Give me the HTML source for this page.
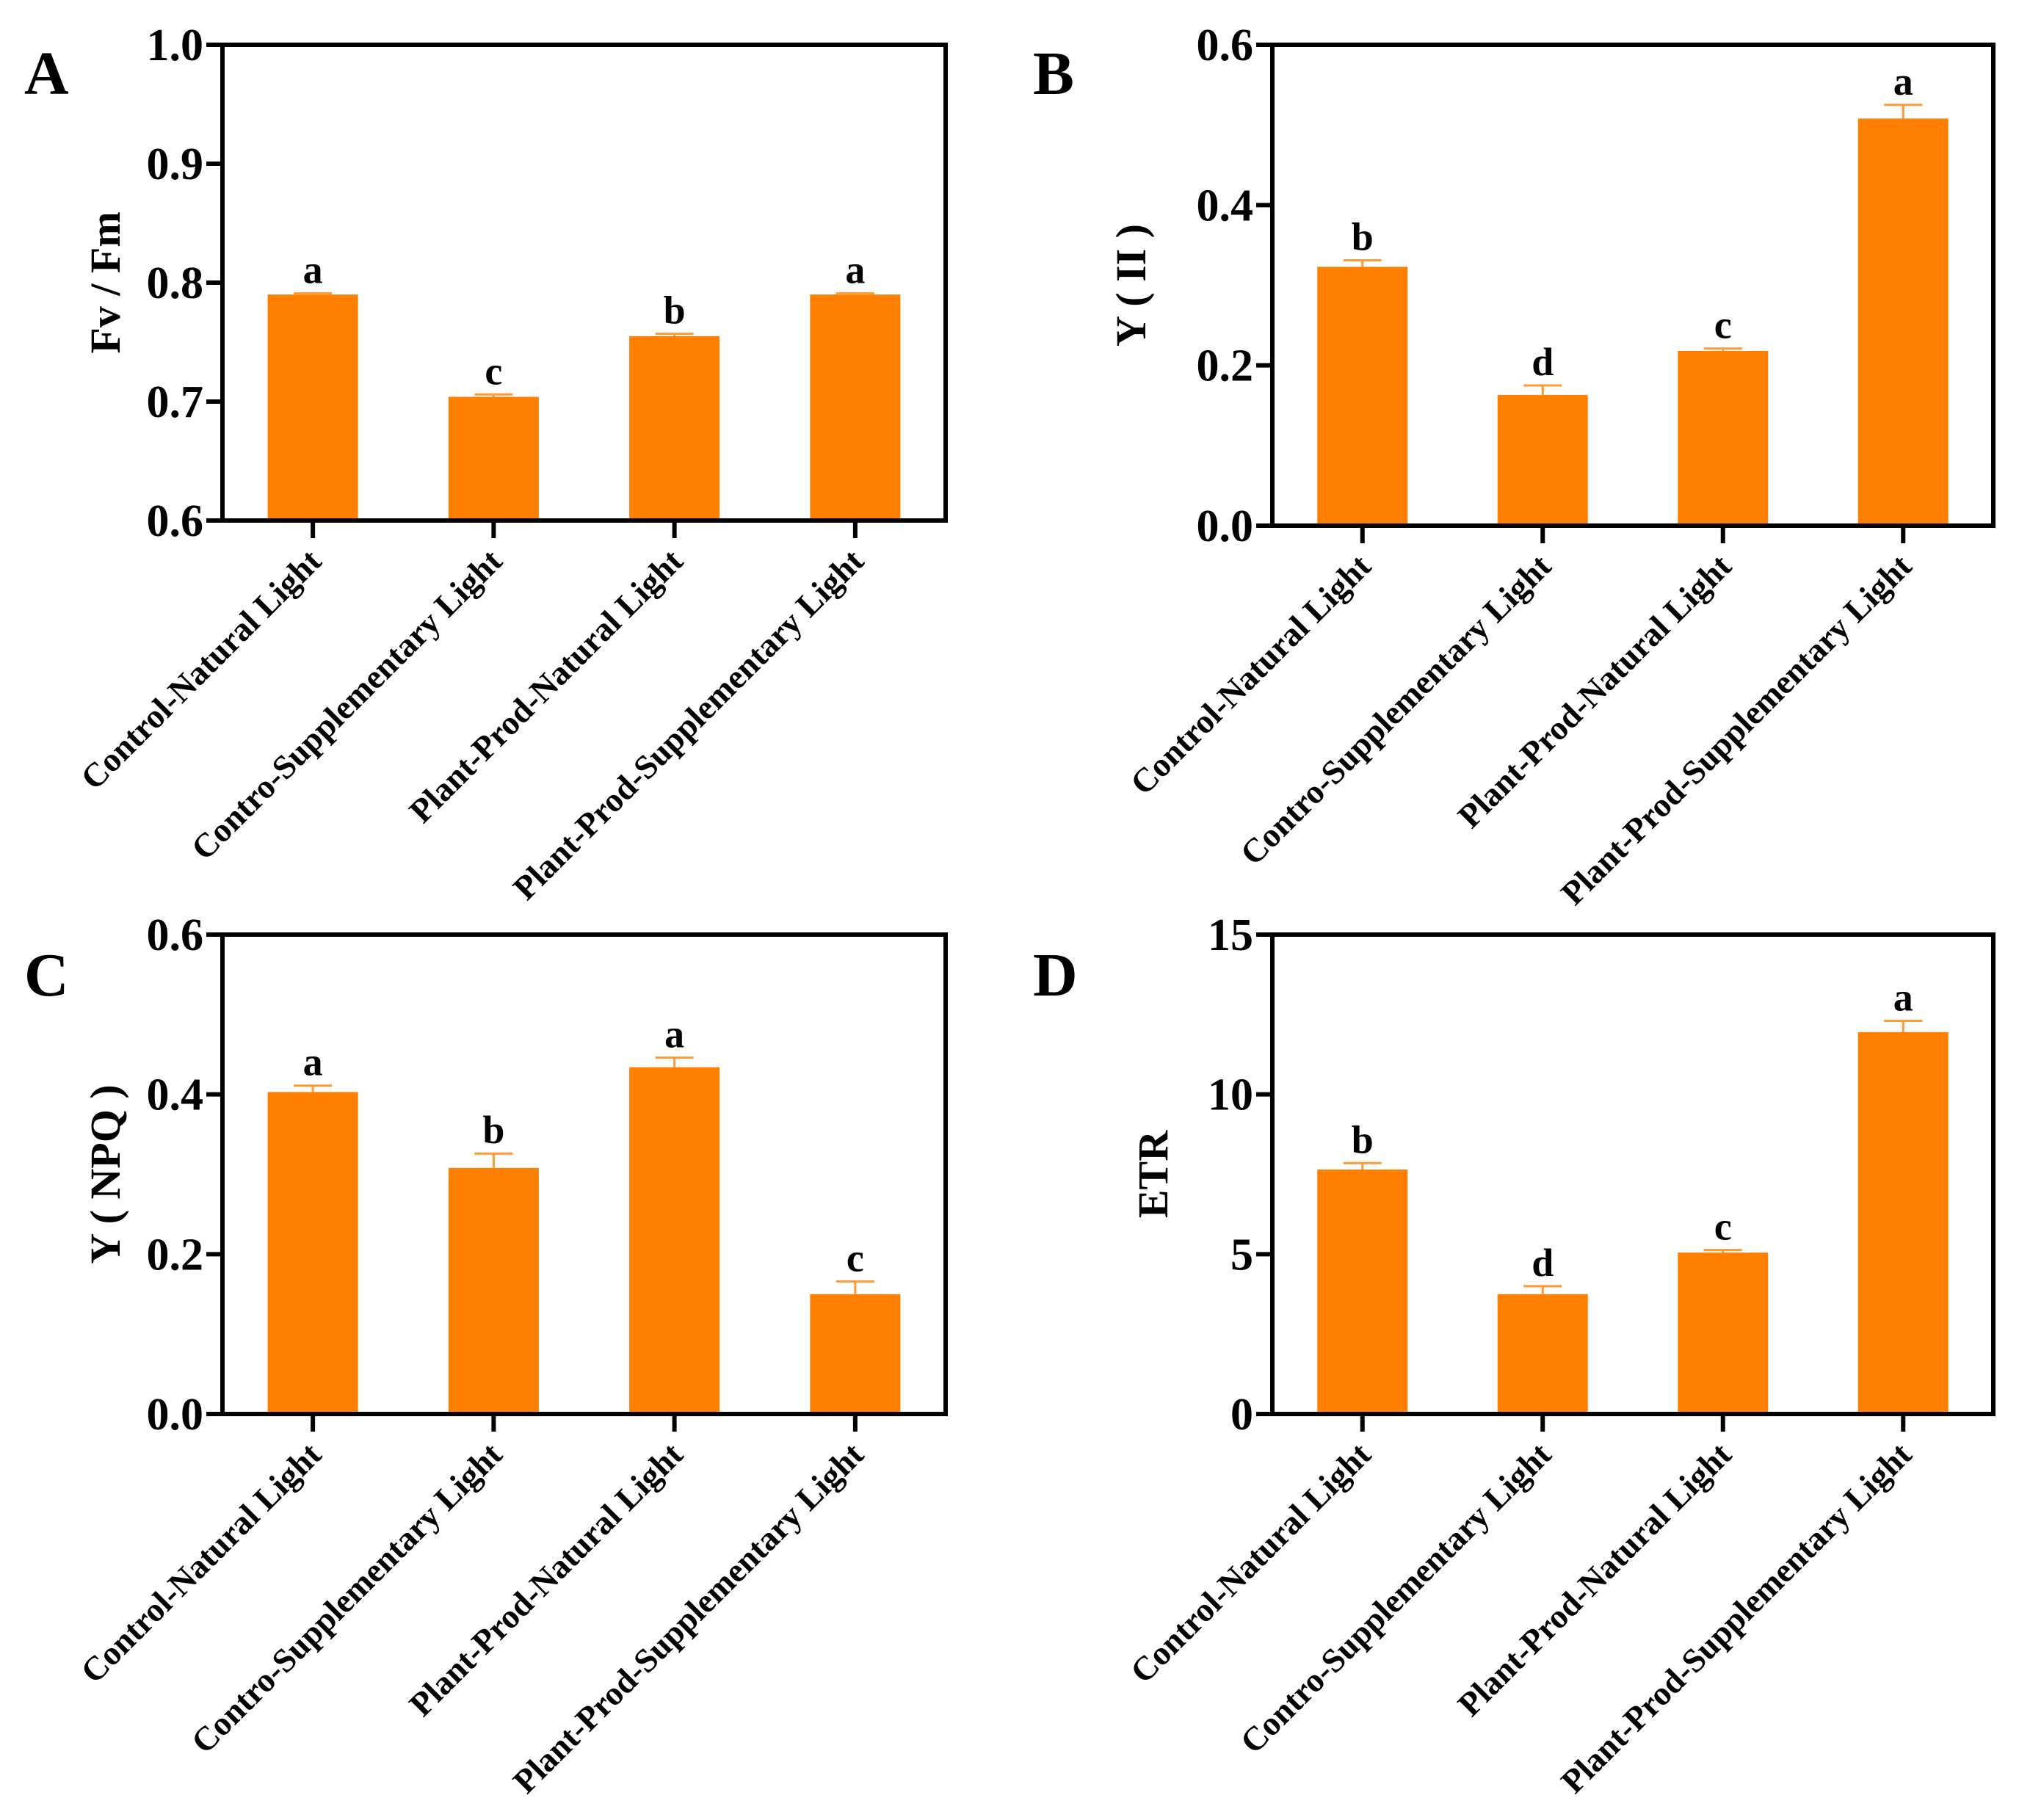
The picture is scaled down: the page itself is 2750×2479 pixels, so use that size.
<!DOCTYPE html>
<html><head><meta charset="utf-8"><style>
html,body{margin:0;padding:0;background:#fff}
svg{display:block}
text{font-family:"Liberation Serif",serif;font-weight:bold;fill:#000}
</style></head><body>
<svg id="fig" width="2750" height="2479" viewBox="0 0 2750 2479" xmlns="http://www.w3.org/2000/svg"></svg>
<script>
const categories = ["Control-Natural Light","Contro-Supplementary Light","Plant-Prod-Natural Light","Plant-Prod-Supplementary Light"];
const valuesA = [0.790, 0.704, 0.755, 0.790];
const errorsA = [0.001, 0.002, 0.002, 0.001];
const lettersA = ["a","c","b","a"];
const ticksA = ["0.6","0.7","0.8","0.9","1.0"];
const valuesB = [0.323, 0.163, 0.218, 0.508];
const errorsB = [0.008, 0.012, 0.003, 0.017];
const lettersB = ["b","d","c","a"];
const ticksB = ["0.0","0.2","0.4","0.6"];
const valuesC = [0.403, 0.308, 0.434, 0.150];
const errorsC = [0.008, 0.018, 0.012, 0.016];
const lettersC = ["a","b","a","c"];
const ticksC = ["0.0","0.2","0.4","0.6"];
const valuesD = [7.65, 3.75, 5.05, 11.95];
const errorsD = [0.20, 0.25, 0.08, 0.35];
const lettersD = ["b","d","c","a"];
const ticksD = ["0","5","10","15"];

const NS = "http://www.w3.org/2000/svg";
const svg = document.getElementById("fig");
function mk(tag, attrs, parent){
  const e = document.createElementNS(NS, tag);
  for (const k in attrs) e.setAttribute(k, attrs[k]);
  (parent||svg).appendChild(e);
  return e;
}
function panel(p){
  const g = mk("g", {});
  
  
  const ticks = p.ticks.map(Number);
  const ymin = ticks[0], ymax = ticks[ticks.length-1];
  const y = v => p.y1 - (v - ymin) / (ymax - ymin) * (p.y1 - p.y0);
  const n = p.values.length;
  const step = (p.x1 - p.x0) / n;
  const x = i => p.x0 + step * (i + 0.5);
  const bw = 123;
  const L = mk("text", {x:p.lx, y:p.ly, "font-size":84}, g);
  L.textContent = p.id;
  
  
  p.values.forEach((v,i)=>{
    const cx = x(i);
    const r = mk("rect", {x:cx-bw/2, y:y(v), width:bw, height:p.y1-y(v), fill:"#FF8000"}, g);
    
    
    const ye = y(v + p.errors[i]);
    const eb = mk("path", {d:`M${cx} ${y(v)} V${ye} M${cx-26} ${ye} H${cx+26}`, stroke:"#FF9A33", "stroke-width":3, fill:"none"}, g);
    
    
    const t = mk("text", {x:cx, y:ye-14, "text-anchor":"middle", "font-size":54}, g);
    t.textContent = p.letters[i];
    
    
    const tk = mk("line", {x1:cx, x2:cx, y1:p.y1, y2:p.y1+24, stroke:"#000", "stroke-width":6}, g);
    
    
    const lx = cx + 14, ly = p.y1 + 58;
    const cl = mk("text", {x:lx, y:ly, "text-anchor":"end", "font-size":46, transform:`rotate(-45 ${lx} ${ly})`}, g);
    cl.textContent = categories[i];
    
    
  });
  const fr = mk("rect", {x:p.x0, y:p.y0, width:p.x1-p.x0, height:p.y1-p.y0, fill:"none", stroke:"#000", "stroke-width":6}, g);
  
  
  p.ticks.forEach(tv=>{
    const yy = y(Number(tv));
    const tl = mk("line", {x1:p.x0-22, x2:p.x0, y1:yy, y2:yy, stroke:"#000", "stroke-width":6}, g);
    
    
    const tt = mk("text", {x:p.x0-26, y:yy+21, "text-anchor":"end", "font-size":62}, g);
    tt.textContent = tv;
    
    
  });
  const cy = (p.y0 + p.y1)/2;
  const yt = mk("text", {x:p.tx, y:cy, "text-anchor":"middle", "font-size":58, transform:`rotate(-90 ${p.tx} ${cy})`}, g);
  yt.textContent = p.title;
  
  
}
panel({id:"A", values:valuesA, errors:errorsA, letters:lettersA, ticks:ticksA, title:"Fv / Fm", x0:303, x1:1288, y0:61, y1:709, lx:33, ly:128, tx:163});
panel({id:"B", values:valuesB, errors:errorsB, letters:lettersB, ticks:ticksB, title:"Y ( II )", x0:1733, x1:2715, y0:61, y1:716, lx:1407, ly:128, tx:1560});
panel({id:"C", values:valuesC, errors:errorsC, letters:lettersC, ticks:ticksC, title:"Y ( NPQ )", x0:303, x1:1288, y0:1273, y1:1926, lx:33, ly:1356, tx:163});
panel({id:"D", values:valuesD, errors:errorsD, letters:lettersD, ticks:ticksD, title:"ETR", x0:1733, x1:2715, y0:1273, y1:1926, lx:1407, ly:1356, tx:1590});
</script>
</body></html>
